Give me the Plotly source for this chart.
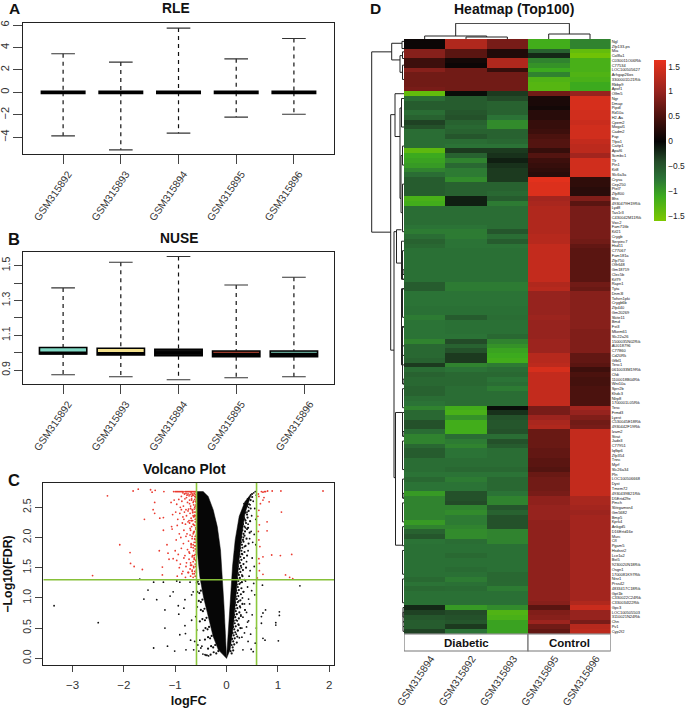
import plotly.graph_objects as go

W, H = 685, 708
samples = ["GSM315892", "GSM315893", "GSM315894", "GSM315895", "GSM315896"]
positions = [1, 2, 3, 4, 5]

# Panel A: RLE
rle_hi = [3.44, 2.70, 5.73, 2.99, 4.81]
rle_lo = [-3.88, -5.13, -3.64, -2.21, -1.95]
rle_med = [0.0, 0.0, 0.0, 0.0, 0.0]

# Panel B: NUSE
nuse_hi = [1.372, 1.519, 1.552, 1.389, 1.433]
nuse_lo = [0.873, 0.862, 0.844, 0.856, 0.862]
nuse_q3 = [1.030, 1.025, 1.020, 1.010, 1.010]
nuse_q1 = [0.992, 0.987, 0.983, 0.977, 0.977]
nuse_med = [0.998, 0.995, 1.000, 0.990, 0.990]
nuse_fill = ["#7FD8C4", "#F3E08C", "#101010", "#9A3A2A", "#5FA090"]
nuse_tickvals = [1, 2, 3, 4, 5.19]

# Panel C: volcano — outlines of the saturated arms and hand-read points
left_arm_x = [0, -0.16, -0.26, -0.36, -0.45, -0.52, -0.565, -0.585, -0.585, -0.455, -0.357, -0.26, -0.18, -0.117, -0.078, -0.052, -0.026, 0]
left_arm_y = [0, 0.14, 0.36, 0.69, 1.02, 1.35, 1.74, 2.18, 2.76, 2.76, 2.68, 2.46, 2.18, 1.79, 1.35, 0.91, 0.47, 0]
right_arm_x = [0, 0.026, 0.052, 0.084, 0.117, 0.169, 0.247, 0.357, 0.487, 0.44, 0.36, 0.30, 0.24, 0.19, 0.135, 0.07, 0]
right_arm_y = [0, 0.30, 0.69, 1.08, 1.52, 1.96, 2.35, 2.59, 2.73, 2.60, 2.40, 2.05, 1.60, 1.10, 0.55, 0.14, 0]

red_x = [-2.32, -1.82, -1.72, -1.48, -1.45, -1.39, -1.22, -1.40, -1.60, -1.43, -1.40, -1.23, -1.30, -2.08, -1.88, -1.87, -1.80, -1.64, -2.61, -1.25, -1.25, -1.31, -1.23, -1.16, -1.14, -1.04, -1.12, -1.07,
         -1.03, -1.00, -0.98, -0.96, -0.94, -0.92, -0.90, -0.88, -0.86, -0.85, -0.83, -0.82, -0.80, -0.79, -0.78, -0.77, -0.76, -0.75, -0.74, -0.73, -0.72, -0.71, -0.70, -0.69, -0.68, -0.67, -0.66, -0.65, -0.64, -0.63, -0.62, -0.61, -0.60, -0.59,
         -1.08, -1.02, -0.97, -0.93, -0.90, -0.87, -0.84, -0.81, -0.79, -0.76, -0.74, -0.72, -0.70, -0.68, -0.66, -0.64, -0.62, -0.60,
         -1.05, -0.99, -0.95, -0.91, -0.88, -0.85, -0.82, -0.78, -0.75, -0.73, -0.71, -0.69, -0.67, -0.65, -0.63, -0.61, -0.595,
         -1.06, -0.96, -0.92, -0.86, -0.83, -0.80, -0.77, -0.72, -0.70, -0.68, -0.66, -0.64, -0.62, -0.60, -0.59,
         -0.98, -0.89, -0.84, -0.79, -0.74, -0.71, -0.69, -0.67, -0.65, -0.63, -0.61, -0.60, -0.59,
         -1.00, -0.94, -0.88, -0.81, -0.76, -0.72, -0.69, -0.66, -0.64, -0.62, -0.61, -0.595,
         -0.97, -0.90, -0.83, -0.78, -0.73, -0.70, -0.67, -0.65, -0.63, -0.61, -0.60,
         -0.92, -0.85, -0.79, -0.75, -0.71, -0.68, -0.66, -0.64, -0.62, -0.60, -0.59,
         -0.96, -0.87, -0.80, -0.74, -0.70, -0.67, -0.65, -0.63, -0.61, -0.59,
         -0.88, -0.78, -0.72, -0.68, -0.65, -0.62, -0.60, -0.83, -0.75, -0.69, -0.64, -0.61, -0.59,
         -0.60, -0.62, -0.59, -0.61, -0.63, -0.60, -0.62, -0.59, -0.61, -0.64, -0.60, -0.63, -0.59, -0.62, -0.60, -0.65, -0.61, -0.59, -0.63, -0.60,
         -0.66, -0.68, -0.64, -0.70, -0.66, -0.63, -0.68, -0.65, -0.71, -0.64, -0.67, -0.62, -0.69, -0.65, -0.73, -0.66, -0.63, -0.70, -0.64, -0.67,
         1.88, 1.06, 0.89, 0.80, 1.07, 0.79, 0.79, 1.27, 1.05, 0.88, 1.15, 1.23, 1.29, 0.71, 0.71, 0.64, 0.62, 0.68, 0.71, 0.74, 0.63, 0.71, 0.66, 0.83, 0.63, 0.64, 0.62, 0.63, 0.65, 0.63, 0.64, 0.76, 0.60, 0.61, 0.73]
red_y = [2.69, 2.77, 2.80, 2.79, 2.75, 2.78, 2.76, 2.58, 2.30, 2.46, 2.40, 2.33, 2.32, 1.88, 1.75, 1.57, 1.52, 1.47, 1.37, 1.51, 1.38, 1.78, 2.12, 1.88, 1.74, 1.65, 1.64, 2.18,
         2.76, 2.76, 2.76, 2.76, 2.76, 2.76, 2.76, 2.76, 2.76, 2.74, 2.76, 2.72, 2.76, 2.73, 2.76, 2.70, 2.76, 2.72, 2.76, 2.69, 2.76, 2.71, 2.76, 2.74, 2.76, 2.72, 2.76, 2.70, 2.76, 2.73, 2.76, 2.71, 2.76, 2.74,
         2.58, 2.62, 2.55, 2.63, 2.50, 2.60, 2.52, 2.64, 2.46, 2.58, 2.47, 2.62, 2.52, 2.64, 2.44, 2.60, 2.50, 2.66,
         2.38, 2.42, 2.30, 2.40, 2.46, 2.34, 2.42, 2.36, 2.44, 2.28, 2.40, 2.32, 2.46, 2.36, 2.42, 2.30, 2.54,
         2.14, 2.20, 2.06, 2.24, 2.12, 2.22, 2.06, 2.24, 2.12, 2.18, 2.28, 2.08, 2.20, 2.14, 2.26,
         1.96, 2.00, 1.90, 2.02, 1.94, 2.04, 1.88, 1.98, 2.06, 1.92, 2.02, 1.86, 1.96,
         1.78, 1.72, 1.82, 1.70, 1.80, 1.74, 1.84, 1.70, 1.78, 1.86, 1.72, 1.80,
         1.62, 1.56, 1.66, 1.58, 1.64, 1.54, 1.68, 1.60, 1.66, 1.56, 1.62,
         1.50, 1.44, 1.52, 1.42, 1.48, 1.54, 1.40, 1.50, 1.44, 1.52, 1.46,
         1.36, 1.40, 1.34, 1.42, 1.36, 1.44, 1.34, 1.40, 1.36, 1.42,
         2.68, 2.66, 2.56, 2.68, 2.58, 2.68, 2.60, 2.30, 2.26, 2.28, 2.34, 2.36, 2.48,
         2.68, 2.63, 2.58, 2.52, 2.47, 2.42, 2.37, 2.32, 2.26, 2.21, 2.16, 2.10, 2.04, 1.98, 1.92, 1.88, 1.81, 1.76, 1.70, 1.62,
         2.70, 2.62, 2.54, 2.48, 2.41, 2.35, 2.28, 2.22, 2.15, 2.09, 2.02, 1.97, 1.90, 1.83, 1.76, 1.70, 1.64, 1.58, 1.52, 1.46,
         2.77, 2.77, 2.77, 2.77, 2.42, 2.26, 2.11, 1.72, 1.70, 1.71, 1.38, 1.34, 1.32, 1.39, 1.68, 1.57, 2.72, 2.76, 2.75, 2.76, 2.68, 2.62, 2.56, 2.59, 2.45, 2.21, 2.10, 1.96, 1.85, 1.65, 1.45, 2.76, 1.33, 2.35, 2.66]

black_x = [-3.36, -2.50, -1.61, -1.36, -1.53, -1.42, -1.20, -1.20, -1.15, -1.42, -1.01, -1.10, -1.04, -0.94, -0.93, -0.81, -0.83, -0.81, -0.91, -0.80, -0.79, -0.68, -0.65, -0.68, -0.71, -0.91, -1.23, -1.69, -0.97, -0.62, -0.64, -0.70,
           -0.57, -0.60, -0.58, -0.52, -0.50, -0.46, -0.54, -0.42, -0.40, -0.38, -0.56, -0.48, -0.35,
           1.43, 1.03, 1.03, 0.96, 0.96, 1.01, 0.76, 0.71, 0.68, 0.68, 0.58, 0.71, 0.75, 0.70, 0.52, 0.42, 0.32, 0.39, 0.45, 0.50, 0.55, 0.47, 0.43, 0.36, 0.30, 0.56, 0.48,
           0.34, 0.38, 0.41, 0.44, 0.47, 0.50, 0.53, 0.56, 0.58, 0.36, 0.40, 0.43, 0.46, 0.49, 0.52, 0.55, 0.57, 0.33, 0.37, 0.42, 0.45, 0.48, 0.51, 0.54, 0.57, 0.29, 0.31, 0.35, 0.39, 0.42, 0.46, 0.50, 0.54, 0.27, 0.30, 0.33, 0.37, 0.41, 0.44, 0.49, 0.53, 0.24, 0.27, 0.31, 0.35, 0.39, 0.43, 0.21, 0.24, 0.28, 0.32, 0.36, 0.41, 0.19, 0.22, 0.25, 0.30, 0.35]
black_y = [0.87, 0.59, 0.98, 0.97, 1.13, 1.26, 0.80, 0.50, 0.20, 0.17, 0.12, 1.03, 1.10, 0.87, 0.73, 0.97, 0.83, 0.54, 0.39, 0.41, 0.14, 0.63, 1.10, 1.05, 1.26, 1.26, 1.26, 1.31, 1.28, 0.28, 0.14, 0.30,
           0.85, 0.69, 0.47, 0.30, 0.17, 0.07, 0.12, 0.06, 0.05, 0.05, 0.22, 0.20, 0.04,
           1.20, 0.77, 0.71, 0.59, 0.55, 0.29, 0.80, 0.75, 0.69, 0.58, 0.50, 0.33, 0.30, 1.21, 0.11, 0.28, 0.14, 0.52, 0.90, 0.72, 1.05, 0.40, 0.62, 0.80, 0.35, 0.25, 0.15,
           2.56, 2.58, 2.64, 2.66, 2.70, 2.72, 2.74, 2.76, 2.70, 2.30, 2.42, 2.50, 2.54, 2.36, 2.60, 2.48, 2.30, 2.00, 2.16, 2.22, 1.98, 2.10, 1.92, 2.05, 1.88, 1.50, 1.72, 1.85, 1.60, 1.78, 1.45, 1.66, 1.52, 1.25, 1.38, 1.10, 1.28, 1.18, 1.36, 1.12, 1.24, 0.95, 0.84, 1.00, 0.90, 0.76, 0.98, 0.62, 0.55, 0.72, 0.68, 0.80, 0.60, 0.40, 0.46, 0.34, 0.50, 0.42]
speck_x = [0.47, 0.50, 0.40, 0.44, 0.47, 0.37, 0.40, 0.43, 0.34, 0.37, 0.41, 0.46, 0.32, 0.35, 0.38, 0.42, 0.31, 0.33, 0.36, 0.40, 0.45, 0.29, 0.32, 0.35, 0.39,
           0.28, 0.30, 0.33, 0.37, 0.43, 0.26, 0.29, 0.31, 0.35, 0.25, 0.27, 0.30, 0.34, 0.40, 0.24, 0.26, 0.29, 0.33, 0.22, 0.25, 0.28, 0.32, 0.38, 0.22, 0.24, 0.27, 0.31,
           0.21, 0.23, 0.26, 0.30, 0.35, 0.20, 0.22, 0.25, 0.29, 0.19, 0.21, 0.24, 0.28, 0.33, 0.18, 0.20, 0.23, 0.27, 0.17, 0.19, 0.22, 0.26, 0.31, 0.16, 0.18, 0.21, 0.25,
           0.15, 0.17, 0.20, 0.24, 0.28, 0.14, 0.16, 0.19, 0.23, 0.13, 0.15, 0.18, 0.22, 0.27, 0.12, 0.14, 0.17, 0.21, 0.11, 0.13, 0.16, 0.20, 0.10, 0.12, 0.15, 0.08, 0.10, 0.13,
           -0.56, -0.54, -0.58, -0.50, -0.53, -0.57, -0.47, -0.50, -0.54, -0.43, -0.46, -0.50, -0.39, -0.42, -0.47, -0.52, -0.34, -0.37, -0.41, -0.45, -0.29, -0.32, -0.36, -0.42, -0.22, -0.26, -0.30, -0.36, -0.16, -0.20, -0.25, -0.31]
speck_y = [2.62, 2.67, 2.52, 2.55, 2.48, 2.41, 2.38, 2.44, 2.32, 2.28, 2.33, 2.27, 2.22, 2.18, 2.24, 2.16, 2.12, 2.06, 2.10, 2.14, 2.08, 2.01, 1.96, 2.03, 1.98,
           1.92, 1.88, 1.93, 1.86, 1.90, 1.82, 1.78, 1.83, 1.76, 1.72, 1.68, 1.73, 1.66, 1.70, 1.61, 1.58, 1.63, 1.56, 1.52, 1.48, 1.53, 1.46, 1.50, 1.41, 1.38, 1.43, 1.36,
           1.32, 1.28, 1.33, 1.26, 1.30, 1.22, 1.18, 1.23, 1.16, 1.12, 1.08, 1.13, 1.06, 1.10, 1.02, 0.98, 1.03, 0.96, 0.92, 0.88, 0.93, 0.86, 0.90, 0.82, 0.78, 0.83, 0.76,
           0.72, 0.68, 0.73, 0.66, 0.70, 0.62, 0.58, 0.63, 0.56, 0.52, 0.48, 0.53, 0.46, 0.50, 0.42, 0.38, 0.43, 0.36, 0.32, 0.28, 0.33, 0.26, 0.22, 0.18, 0.23, 0.12, 0.08, 0.13,
           1.27, 1.23, 1.25, 1.12, 1.08, 1.10, 0.97, 0.93, 0.95, 0.82, 0.78, 0.80, 0.67, 0.63, 0.65, 0.61, 0.52, 0.48, 0.50, 0.46, 0.37, 0.33, 0.35, 0.31, 0.22, 0.18, 0.20, 0.16, 0.12, 0.08, 0.10, 0.06]
fc_cut = [-0.585, 0.585]
fdr_cut = [1.3]

# Panel D: heatmap
heat_cols = ["GSM315894", "GSM315892", "GSM315893", "GSM315895", "GSM315896"]
genes = ["Ngl", "Zfp133-ps", "Mia", "Col8a1", "C030011O06Rik", "C77534", "LOC100505627", "Arhgap26os", "3300001D21Rik", "Rbbp9",
         "Apof1", "Olfm5", "Ngr", "Dmap", "Pipdl", "Rd10a", "H2-Aa", "Cpem2", "Mogaf1", "Cadm2",
         "Fap", "Tfpo1", "Cattp1", "Apaf6", "Scmbc1", "Tlr", "Pin1", "Kit8", "Slc6a3a", "Crysa",
         "Cep250", "Ptel7", "Zfp800", "Bhs", "4930479H19Rik", "Lyd8", "Tas1r3", "C430042M11Rik", "Vwc2", "Fam71fib",
         "Kif21", "Crygb", "Serpinc7", "Hsd11", "C77067", "Fam181a", "Zfp750", "Olfr648", "Gm18719", "Clec5b",
         "Kif79", "Rapn1", "Tyta", "Dnm3l", "Tofsrn1pki", "Crygb6b", "Zfp440", "Gm20269", "Skite11", "Bmd",
         "Fst3", "Mkem61", "Slc22a26", "1500035N02Rik", "AU018796", "C77860", "Cd20Rk", "Gfbl1", "Tesc1", "0610033M19Rik",
         "Cfdi", "1100018B04Rik", "Wnt10a", "Sprr2b", "Khdc3", "Nlrp8", "1700001L05Rik", "Tesc", "Frmd3", "Lyest",
         "C530045E18Rik", "4930442F19Rik", "Izam2", "Strat", "Jade3", "C77951", "Iqfbp6", "Zfp354", "Tnnc", "Myrf",
         "Slc26a34", "Pln", "LOC100506668", "Dyst", "Tmem72", "4930439B21Rik", "D5Ertd29e", "Pmch", "Slitrgamsn4", "Gm5682",
         "Bmp5", "Kprk4", "Ankgd5", "D16Ertd16e", "Murc", "Cfl", "Pgam5", "Hsdsst2", "Lce1a2", "Bst5",
         "9230020N18Rik", "Osgn1", "1700081K97Rik", "Ntsr1", "Prss42", "4833417C18Rik", "Gpt1b", "C330022C24Rik", "C330034I22Rik", "Gpc3",
         "LOC100505503", "3110021N24Rik", "Chn", "Pv1", "Cyp2f2"]
heat_values = [
    [0.05, 1.2, 0.8, -1.15, -0.85], [0.05, 1.2, 0.8, -1.15, -0.85], [0.9, 0.6, 0.2, -0.6, -1.4], [0.9, 0.6, 0.2, -0.2, -1.5],
    [0.4, 0.1, 1.2, -0.85, -1.2], [0.4, 0.05, 1.2, -0.95, -1.2], [0.9, 0.75, 0.35, -1.1, -1.2], [0.75, 0.75, 0.75, -0.85, -1.25],
    [0.75, 0.75, 0.75, -1.25, -1.2], [0.75, 0.75, 0.75, -1.3, -1.1], [0.8, 0.75, 0.75, -1.3, -1.1], [-1.4, -0.05, -0.3, 0.75, 1.0],
    [-0.7, -0.55, -0.4, 0.15, 1.5], [-0.55, -0.55, -0.6, 0.15, 1.5], [-0.55, -0.55, -0.6, 0.1, 1.5], [-0.7, -0.5, -0.6, 0.25, 1.45],
    [-0.6, -0.45, -0.75, 0.25, 1.45], [-0.35, -0.6, -0.9, 0.35, 1.4], [-0.45, -0.65, -0.9, 0.35, 1.45], [-0.7, -0.6, -0.6, 0.4, 1.45],
    [-0.7, -0.5, -0.6, 0.5, 1.45], [-0.7, -0.7, -0.65, 0.55, 1.35], [-0.7, -0.75, -0.75, 0.55, 1.3], [-1.35, -0.3, -0.3, 0.35, 1.3],
    [-1.1, -0.6, -0.25, 0.55, 1.1], [-1.05, -0.85, -0.15, 0.4, 1.45], [-1.0, -0.65, -0.25, 0.35, 1.45], [-0.85, -0.8, -0.3, 0.3, 1.45],
    [-0.7, -0.8, -0.3, 0.25, 1.45], [-0.55, -0.9, -0.3, 1.6, 0.3], [-0.55, -0.6, -0.6, 1.55, 0.3], [-0.55, -0.6, -0.6, 1.55, 0.25],
    [-0.55, -0.6, -0.65, 1.55, 0.25], [-1.2, -0.15, -0.55, 1.1, 0.85], [-1.15, -0.15, -0.8, 1.15, 0.6], [-0.7, -0.7, -0.7, 1.2, 0.8],
    [-0.7, -0.7, -0.7, 1.2, 0.8], [-0.7, -0.7, -0.7, 1.2, 0.8], [-0.7, -0.7, -0.7, 1.2, 0.8], [-0.75, -0.75, -0.7, 1.2, 0.8],
    [-0.8, -0.8, -0.5, 1.2, 0.8], [-0.7, -0.8, -0.7, 1.25, 0.8], [-0.6, -0.75, -0.55, 1.25, 0.75], [-0.65, -0.75, -0.75, 1.35, 0.65],
    [-0.72, -0.72, -0.72, 1.35, 0.6], [-0.72, -0.72, -0.72, 1.35, 0.6], [-0.72, -0.72, -0.72, 1.35, 0.6], [-0.72, -0.72, -0.72, 1.35, 0.6],
    [-0.72, -0.72, -0.72, 1.35, 0.6], [-0.72, -0.72, -0.72, 1.35, 0.6], [-0.72, -0.72, -0.72, 1.35, 0.6], [-0.55, -0.8, -0.8, 1.2, 0.75],
    [-0.55, -0.8, -0.8, 1.25, 0.7], [-0.75, -0.75, -0.75, 1.0, 0.9], [-0.75, -0.75, -0.75, 1.0, 0.9], [-0.75, -0.75, -0.75, 1.0, 0.9],
    [-0.72, -0.72, -0.72, 1.0, 0.9], [-0.72, -0.72, -0.72, 1.0, 0.9], [-0.8, -0.55, -0.7, 1.05, 0.9], [-0.75, -0.72, -0.72, 1.0, 0.9],
    [-0.75, -0.72, -0.72, 1.0, 0.9], [-0.75, -0.72, -0.72, 1.0, 0.85], [-0.75, -0.75, -0.65, 1.0, 0.85], [-0.85, -0.4, -0.85, 1.05, 0.85],
    [-0.65, -0.6, -0.95, 1.05, 0.85], [-0.65, -0.45, -1.05, 1.05, 0.85], [-0.65, -0.3, -1.1, 1.25, 0.65], [-0.6, -0.3, -1.15, 1.25, 0.65],
    [-0.3, -0.85, -0.8, 1.3, 0.6], [-0.7, -0.75, -0.7, 1.5, 0.4], [-0.6, -0.65, -0.65, 1.35, 0.5], [-0.65, -0.65, -0.75, 1.35, 0.45],
    [-0.65, -0.65, -0.7, 1.35, 0.45], [-0.6, -0.7, -0.8, 1.35, 0.5], [-0.6, -0.7, -0.7, 1.35, 0.5], [-0.7, -0.7, -0.7, 1.35, 0.5],
    [-0.75, -0.7, -0.7, 1.35, 0.5], [-0.85, -1.15, -0.05, 0.8, 1.1], [-0.65, -1.2, -0.25, 0.8, 1.0], [-0.65, -0.95, -0.45, 1.05, 0.85],
    [-0.45, -1.15, -0.5, 1.15, 0.75], [-0.45, -1.15, -0.5, 1.2, 0.8], [-0.7, -1.15, -0.45, 0.7, 1.35], [-0.85, -0.7, -0.7, 0.7, 1.35],
    [-0.85, -0.8, -0.45, 0.7, 1.35], [-0.65, -0.85, -0.55, 0.7, 1.35], [-0.55, -0.75, -0.7, 0.65, 1.35], [-0.55, -0.75, -0.7, 0.65, 1.35],
    [-0.7, -0.7, -0.7, 0.6, 1.35], [-0.7, -0.7, -0.7, 0.6, 1.35], [-0.7, -0.65, -0.65, 0.55, 1.35], [-0.75, -0.75, -0.75, 0.7, 1.35],
    [-0.65, -0.8, -0.65, 0.75, 1.35], [-0.75, -0.75, -0.65, 0.75, 1.35], [-0.75, -0.75, -0.65, 0.75, 1.35], [-1.0, -0.45, -0.75, 0.8, 1.35],
    [-0.85, -0.45, -0.85, 0.95, 1.15], [-0.85, -0.4, -0.85, 0.95, 1.15], [-0.85, -0.85, -0.5, 1.0, 1.1], [-0.85, -0.9, -0.6, 1.0, 1.05],
    [-0.85, -0.8, -0.45, 1.0, 1.1], [-1.0, -0.8, -0.45, 0.95, 1.1], [-0.85, -0.85, -0.45, 0.95, 1.1], [-0.6, -0.9, -0.85, 0.95, 1.1],
    [-0.5, -0.9, -0.85, 0.95, 1.1], [-0.75, -0.7, -0.85, 0.95, 1.1], [-0.72, -0.72, -0.72, 0.95, 1.1], [-0.72, -0.72, -0.72, 0.95, 1.1],
    [-0.72, -0.66, -0.72, 0.95, 1.1], [-0.72, -0.72, -0.72, 0.95, 1.1], [-0.72, -0.72, -0.72, 0.95, 1.1], [-0.72, -0.68, -0.72, 0.95, 1.1],
    [-0.72, -0.72, -0.65, 0.95, 1.1], [-0.66, -0.8, -0.65, 0.95, 1.1], [-0.75, -0.72, -0.66, 0.95, 1.1], [-0.66, -0.68, -0.8, 0.95, 1.1],
    [-0.72, -0.72, -0.72, 0.95, 1.1], [-0.72, -0.72, -0.72, 0.95, 1.1], [-0.72, -0.72, -0.72, 0.9, 1.2], [-0.2, -1.0, -0.9, 0.6, 1.4],
    [-0.35, -0.4, -1.25, 0.85, 1.0], [-0.5, -0.45, -1.2, 0.9, 1.0], [-0.55, -0.5, -1.05, 1.05, 0.8], [-0.55, -0.3, -1.05, 0.75, 1.25],
    [-0.35, -0.75, -1.05, 0.65, 1.3]]
bar_ticks = [-1.5, -1, -0.5, 0, 0.5, 1, 1.5]
groups = ["Diabetic", "Control"]

# Column tree: node height, left/right column position, left/right child height
col_node_h = [15.7, 3, 2, 5]
col_node_a = [0.75, 0, 1, 3]
col_node_b = [3.5, 1.5, 2, 4]
col_child_a = [3, 0, 0, 0]
col_child_b = [5, 2, 0, 0]

# Row tree: node height, top/bottom row position, top/bottom child height
row_node_h = [32.3, 12.3, 2, 4, 1.5, 1.5, 13.3, 9, 4, 2.5, 3, 1.5, 1.5, 10, 7.5, 8.5, 2.5, 2.5, 2.5,
              1.5, 1.5, 1.5, 1.5, 1.5, 1.5, 1.5, 1.5, 1.5, 1.5, 1.5, 1.5, 1, 1, 1, 1, 1, 1, 1, 1]
row_node_t = [2.2, 0.4, 0, 3, 2.2, 5, 15.4, 11, 14, 12, 24, 22, 30, 40, 39.6, 78, 42, 52, 60,
              44, 52, 60, 64, 73, 78, 84, 92, 97, 102, 107, 113, 119, 120, 122, 123, 95, 82, 71, 48]
row_node_b = [40.1, 3.9, 1.5, 6.5, 3.6, 8, 64.9, 20, 33, 18, 36, 26, 40, 91.7, 46.6, 105.9, 50, 60, 68,
              50, 58, 66, 72, 77, 83, 90, 96, 101, 106, 112, 118, 121, 122, 123, 124, 96, 83, 72, 49]
row_child_t = [12.3, 2, 0, 1.5, 0, 0, 9, 0, 2.5, 0, 1.5, 0, 0, 7.5, 2.5, 1.5, 0, 0, 0,
               0, 0, 0, 0, 0, 0, 0, 0, 0, 0, 0, 0, 0, 0, 0, 0, 0, 0, 0, 0]
row_child_b = [13.3, 4, 0, 1.5, 0, 0, 10, 4, 3, 0, 1.5, 0, 0, 8.5, 2.5, 1.5, 0, 0, 0,
               0, 0, 0, 0, 0, 0, 0, 0, 0, 0, 0, 0, 0, 0, 0, 0, 0, 0, 0, 0]

assert len(genes) == len(heat_values) == 125, (len(genes), len(heat_values))
assert len(red_x) == len(red_y), (len(red_x), len(red_y))
assert len(black_x) == len(black_y), (len(black_x), len(black_y))
assert len(speck_x) == len(speck_y), (len(speck_x), len(speck_y))
assert len(row_node_h) == len(row_node_t) == len(row_node_b) == len(row_child_t) == len(row_child_b)

FONT = "Liberation Sans"
INK = "#1a1a1a"


def xdom(a, b):
    return [a / W, b / W]


def ydom(top, bottom):
    return [1 - bottom / H, 1 - top / H]


fig = go.Figure()
CAP = 0.205


def whisker_traces(xa, ya, lo, hi, stop_lo, stop_hi):
    for i, p in enumerate(positions):
        fig.add_trace(go.Scatter(x=[p, p, None, p, p], y=[hi[i], stop_hi[i], None, stop_lo[i], lo[i]],
                                 mode="lines", line=dict(color="#111", width=1.2, dash="4px,4px"),
                                 xaxis=xa, yaxis=ya, showlegend=False, hoverinfo="skip"))
        fig.add_trace(go.Scatter(x=[p - CAP, p + CAP, None, p - CAP, p + CAP], y=[hi[i], hi[i], None, lo[i], lo[i]],
                                 mode="lines", line=dict(color="#333", width=1.1),
                                 xaxis=xa, yaxis=ya, showlegend=False, hoverinfo="skip"))


# Panel A
whisker_traces("x", "y", rle_lo, rle_hi, rle_med, rle_med)
for i, p in enumerate(positions):
    fig.add_trace(go.Scatter(x=[p - 0.39, p + 0.39], y=[rle_med[i], rle_med[i]], mode="lines",
                             line=dict(color="#000", width=3.6), xaxis="x", yaxis="y",
                             showlegend=False, hoverinfo="skip"))

# Panel B
whisker_traces("x2", "y2", nuse_lo, nuse_hi, nuse_q1, nuse_q3)
fig.add_trace(go.Bar(x=positions, y=[b - a for a, b in zip(nuse_q1, nuse_q3)], base=nuse_q1, width=0.82,
                     marker=dict(color=nuse_fill, line=dict(color="#000", width=1.6)),
                     xaxis="x2", yaxis="y2", showlegend=False, hoverinfo="skip"))
for i, p in enumerate(positions):
    fig.add_trace(go.Scatter(x=[p - 0.41, p + 0.41], y=[nuse_med[i], nuse_med[i]], mode="lines",
                             line=dict(color="#000", width=3), xaxis="x2", yaxis="y2",
                             showlegend=False, hoverinfo="skip"))

# Panel C
for ax, ay in ((left_arm_x, left_arm_y), (right_arm_x, right_arm_y)):
    fig.add_trace(go.Scatter(x=ax, y=ay, mode="lines", fill="toself", fillcolor="#060606",
                             line=dict(color="#060606", width=0.5), xaxis="x3", yaxis="y3",
                             showlegend=False, hoverinfo="skip"))
fig.add_trace(go.Scatter(x=black_x, y=black_y, mode="markers", marker=dict(color="#111", size=1.8),
                         xaxis="x3", yaxis="y3", showlegend=False, hoverinfo="skip"))
fig.add_trace(go.Scatter(x=speck_x, y=speck_y, mode="markers", marker=dict(color="#111", size=2.2),
                         xaxis="x3", yaxis="y3", showlegend=False, hoverinfo="skip"))
fig.add_trace(go.Scatter(x=red_x, y=red_y, mode="markers", marker=dict(color="#EA3B30", size=1.8),
                         xaxis="x3", yaxis="y3", showlegend=False, hoverinfo="skip"))
for v in fc_cut:
    fig.add_trace(go.Scatter(x=[v, v], y=[-0.116, 2.907], mode="lines", line=dict(color="#8CC83C", width=1.6),
                             xaxis="x3", yaxis="y3", showlegend=False, hoverinfo="skip"))
fig.add_trace(go.Scatter(x=[-3.57, 2.1], y=[fdr_cut[0]] * 2, mode="lines", line=dict(color="#86C038", width=1.6),
                         xaxis="x3", yaxis="y3", showlegend=False, hoverinfo="skip"))

# Panel D: heatmap
ZMIN, ZMAX = -1.6, 1.64
colors = [(-1.6, "rgb(125,200,0)"), (-1.1, "rgb(60,170,30)"), (-0.75, "rgb(43,115,54)"), (-0.4, "rgb(35,75,40)"),
          (0, "rgb(5,5,5)"), (0.5, "rgb(75,18,14)"), (1, "rgb(150,35,30)"), (1.64, "rgb(232,50,28)")]
scale = [[(v - ZMIN) / (ZMAX - ZMIN), c] for v, c in colors]
fig.add_trace(go.Heatmap(z=heat_values, x=list(range(5)), y=list(range(len(genes))), zmin=ZMIN, zmax=ZMAX,
                         colorscale=scale, xaxis="x4", yaxis="y4", hoverinfo="skip",
                         colorbar=dict(x=654 / W, xanchor="left", y=1 - 220.7 / H, yanchor="bottom",
                                       lenmode="pixels", len=160.7, thicknessmode="pixels", thickness=12,
                                       outlinewidth=0, tickvals=bar_ticks,
                                       ticktext=["\u22121.5", "\u22121", "\u22120.5", "0", "0.5", "1", "1.5"],
                                       ticks="", tickfont=dict(size=8.4, color="#222", family=FONT), xpad=0, ypad=0)))

# Dendrograms
cx, cy = [], []
for h, a, b, ca, cb in zip(col_node_h, col_node_a, col_node_b, col_child_a, col_child_b):
    cx += [a, a, b, b, None]
    cy += [ca, h, h, cb, None]
fig.add_trace(go.Scatter(x=cx, y=cy, mode="lines", line=dict(color="#222", width=1), xaxis="x5", yaxis="y5",
                         showlegend=False, hoverinfo="skip"))
rx, ry = [], []
for h, t, b, ct, cb in zip(row_node_h, row_node_t, row_node_b, row_child_t, row_child_b):
    rx += [ct, h, h, cb, None]
    ry += [t, t, b, b, None]
fig.add_trace(go.Scatter(x=rx, y=ry, mode="lines", line=dict(color="#222", width=1), xaxis="x6", yaxis="y6",
                         showlegend=False, hoverinfo="skip"))

tick_font = dict(size=10.3, color="#333", family=FONT)
box = dict(showline=True, mirror=True, linecolor="#222", linewidth=1.2, showgrid=False, zeroline=False)
sample_axis = dict(tickmode="array", ticktext=samples, tickangle=-55, ticks="outside", ticklen=9, tickwidth=1,
                   tickcolor="#444", tickfont=tick_font, ticklabelshift=5, range=[0.31, 5.7], **box)
y_tick = dict(ticks="outside", tickwidth=1, tickcolor="#444", tickangle=-90, **box)

fig.update_layout(
    width=W, height=H, margin=dict(l=0, r=0, t=0, b=0, autoexpand=False), paper_bgcolor="white", plot_bgcolor="white",
    font=dict(family=FONT, color=INK), showlegend=False, barmode="overlay",
    xaxis=dict(domain=xdom(23.3, 334.3), anchor="y", tickvals=positions, **sample_axis),
    yaxis=dict(domain=ydom(23.3, 154), anchor="x", range=[-5.5, 6.16], tickvals=[-4, -2, 0, 2, 4, 6], ticklen=9,
               tickfont=dict(size=11, color="#333", family=FONT), **y_tick),
    xaxis2=dict(domain=xdom(23.3, 334.3), anchor="y2", tickvals=nuse_tickvals, **sample_axis),
    yaxis2=dict(domain=ydom(251.7, 384), anchor="x2", range=[0.82, 1.58], tickvals=[0.9, 1.0, 1.1, 1.2, 1.3, 1.4, 1.5],
                ticktext=["0.9", "", "1.1", "", "1.3", "", "1.5"], ticklen=8,
                tickfont=dict(size=10.5, color="#333", family=FONT), **y_tick),
    xaxis3=dict(domain=xdom(43.3, 334.3), anchor="y3", range=[-3.57, 2.1], tickvals=[-3, -2, -1, 0, 1, 2], ticks="outside",
                ticklen=6, tickcolor="#444", tickfont=dict(size=11.5, color="#333", family=FONT), ticklabelstandoff=3,
                title=dict(text="<b>logFC</b>", font=dict(size=12.7, color="#111"), standoff=6), **box),
    yaxis3=dict(domain=ydom(482.7, 665.3), anchor="x3", range=[-0.116, 2.907], tickvals=[0, 0.5, 1, 1.5, 2, 2.5],
                ticktext=["0.0", "0.5", "1.0", "1.5", "2.0", "2.5"], ticklen=7,
                tickfont=dict(size=10.5, color="#333", family=FONT),
                title=dict(text="<b>\u2212Log10(FDR)</b>", font=dict(size=12.4, color="#111"), standoff=5), **y_tick),
    xaxis4=dict(domain=xdom(404, 610.7), anchor="y4", range=[-0.5, 4.5], tickmode="array", tickvals=list(range(5)),
                ticktext=heat_cols, tickangle=-56, ticks="outside", ticklen=14, tickcolor="rgba(0,0,0,0)",
                tickfont=tick_font, ticklabelshift=6, showgrid=False, zeroline=False, showline=False),
    yaxis4=dict(domain=ydom(39, 633.7), range=[124.5, -0.5], side="right", anchor="x4", tickmode="array",
                tickvals=list(range(len(genes))), ticktext=genes, ticks="", showgrid=False, zeroline=False,
                showline=False, tickfont=dict(size=4, color="#111", family=FONT)),
    xaxis5=dict(domain=xdom(404, 610.7), range=[-0.5, 4.5], visible=False, anchor="y5"),
    yaxis5=dict(domain=ydom(23, 39), range=[0, 16], visible=False, anchor="x5"),
    xaxis6=dict(domain=xdom(371, 404), range=[33, 0], visible=False, anchor="y6"),
    yaxis6=dict(domain=ydom(39, 633.7), range=[124.5, -0.5], visible=False, anchor="x6"),
)

annots = [("A", 14, 8, 15.5), ("B", 14, 239, 16.5), ("C", 14, 480, 16.5), ("D", 375, 8.5, 15.5),
          ("RLE", 176, 8.5, 13.8), ("NUSE", 179, 238, 13.8), ("Volcano Plot", 184, 469, 13.8), ("Heatmap (Top100)", 514, 8.5, 14)]
for text, x, y, size in annots:
    fig.add_annotation(text=f"<b>{text}</b>", x=x / W, y=1 - y / H, xref="paper", yref="paper", showarrow=False,
                       font=dict(size=size, color="#111", family=FONT), xanchor="center", yanchor="middle")

# Group strip below the heatmap, tied to the heatmap's column axis
strip = [(-0.5, 2.5, groups[0]), (2.5, 4.5, groups[1])]
for a, b, label in strip:
    fig.add_shape(type="rect", xref="x4", yref="paper", x0=a, x1=b, y0=1 - 651 / H, y1=1 - 634 / H,
                  line=dict(color="#777", width=1.2), fillcolor="white")
    fig.add_annotation(text=f"<b>{label}</b>", x=(a + b) / 2, xref="x4", y=1 - 642.5 / H, yref="paper",
                       xanchor="center", yanchor="middle", showarrow=False,
                       font=dict(size=11.5, color="#111", family=FONT))

fig.write_html("out.html", config={"displayModeBar": False}, post_script="document.body.style.margin='0';")
